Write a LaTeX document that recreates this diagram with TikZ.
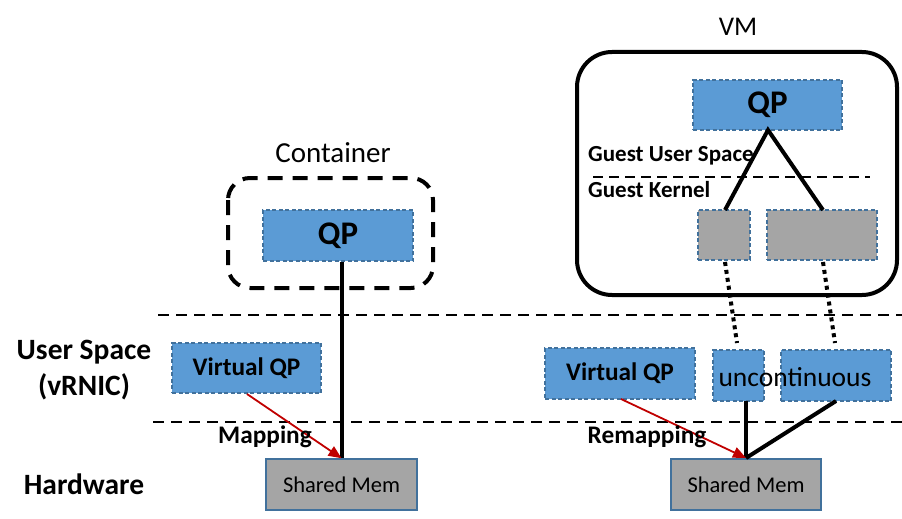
\documentclass[tikz,border=0pt]{standalone}
\usepackage{fontspec}
\setmainfont{Carlito}
\usetikzlibrary{arrows.meta}
\definecolor{qpblue}{HTML}{5B9BD5}
\definecolor{qpedge}{HTML}{41719C}
\definecolor{memgray}{HTML}{A5A5A5}
\definecolor{arrred}{HTML}{C00000}
\tikzset{
  qpbox/.style={draw=qpedge, fill=qpblue, line width=1.3pt, dash pattern=on 4pt off 2.5pt, inner sep=0pt},
  graybox/.style={draw=qpedge, fill=memgray, line width=1.3pt, dash pattern=on 4pt off 2.5pt, inner sep=0pt},
  membox/.style={draw=qpedge, fill=memgray, line width=1.5pt, inner sep=0pt},
  layerline/.style={line width=2.8pt, dash pattern=on 11pt off 7pt},
  thickline/.style={line width=4pt},
  dotline/.style={line width=4pt, dash pattern=on 4pt off 4pt},
  maparrow/.style={arrred, line width=1.8pt, -{Triangle[length=13pt,width=11pt]}},
  lbl/.style={font=\bfseries\fontsize{29.5}{31}\selectfont, inner sep=0pt},
}
\begin{document}
\begin{tikzpicture}[x=1pt,y=-1pt]
\useasboundingbox (0,0) rectangle (902,519);

% layer lines
\coordinate (l1a) at (158,315); \coordinate (l1b) at (902,315);
\coordinate (l2a) at (153,422); \coordinate (l2b) at (902,422);
\draw[layerline] (l1a) -- (l1b);
\draw[layerline] (l2a) -- (l2b);

% left labels
\node[lbl] (us) at (84,352) {User Space};
\node[lbl] (vr) at (84,387) {(vRNIC)};
\node[lbl] (hw) at (84,484) {Hardware};

% Container
\node[font=\fontsize{29}{31}\selectfont, inner sep=0pt] (ctl) at (333,153) {Container};
\draw[line width=4pt, dash pattern=on 15pt off 10pt, rounded corners=22pt] (228,178) rectangle (433,288);
\node[qpbox, minimum width=150pt, minimum height=51pt, font=\bfseries\fontsize{33}{35}\selectfont] (cqp) at (338,235.5) {QP};

% left bottom
\node[qpbox, minimum width=149pt, minimum height=50pt, font=\bfseries\fontsize{25.3}{27}\selectfont] (vqp1) at (246.5,368) {Virtual QP};
\node[membox, minimum width=151pt, minimum height=51pt, font=\fontsize{22.5}{24}\selectfont] (sm1) at (341.5,484.5) {Shared Mem};
\draw[thickline] (cqp.south -| sm1.north) -- (sm1.north);
\draw[maparrow] (247,394) -- (sm1.north);
\node[font=\bfseries\fontsize{25.3}{27}\selectfont, inner sep=0pt] (map) at (265,437) {Mapping};

% VM
\node[font=\fontsize{27}{29}\selectfont, inner sep=0pt] (vml) at (738,27) {VM};
\draw[line width=4pt, rounded corners=35pt] (577,52) rectangle (897,295);
\node[qpbox, minimum width=149pt, minimum height=50pt, font=\bfseries\fontsize{33}{35}\selectfont] (vqp) at (767.5,105) {QP};
\node[font=\bfseries\fontsize{23}{25}\selectfont, inner sep=0pt, anchor=west] (gus) at (588,156) {Guest User Space};
\node[font=\bfseries\fontsize{23}{25}\selectfont, inner sep=0pt, anchor=west] (gk) at (588,190) {Guest Kernel};
\coordinate (gla) at (593,177); \coordinate (glb) at (870,177);
\draw[line width=2.8pt, dash pattern=on 10pt off 6pt] (gla) -- (glb);
\node[graybox, minimum width=52pt, minimum height=50pt] (g1) at (724,235) {};
\node[graybox, minimum width=110pt, minimum height=50pt] (g2) at (822,235) {};
\coordinate (qpb) at (768,130);
\draw[thickline, line join=miter] (725,210) -- (qpb) -- (823,210);

% right bottom
\node[qpbox, minimum width=150pt, minimum height=51pt, font=\bfseries\fontsize{25.3}{27}\selectfont] (vqp2) at (620,373.5) {Virtual QP};
\node[qpbox, minimum width=51pt, minimum height=51pt] (u1) at (738.5,375.5) {};
\node[qpbox, minimum width=110pt, minimum height=51pt] (u2) at (836,375.5) {};
\node[font=\fontsize{27.5}{29}\selectfont, inner sep=0pt] (unc) at (795,377) {uncontinuous};
\node[membox, minimum width=150pt, minimum height=51pt, font=\fontsize{22.5}{24}\selectfont] (sm2) at (746,484.5) {Shared Mem};

\draw[dotline] (725,262) -- (737,343);
\draw[dotline] (823,262) -- (835,343);

\coordinate (smt) at (746,458);
\draw[thickline] (746,401) -- (smt);
\draw[thickline] (836,401) -- (smt);
\draw[maparrow] (621,399) -- (smt);
\node[font=\bfseries\fontsize{25.3}{27}\selectfont, inner sep=0pt] (remap) at (647,437) {Remapping};
\end{tikzpicture}
\end{document}
